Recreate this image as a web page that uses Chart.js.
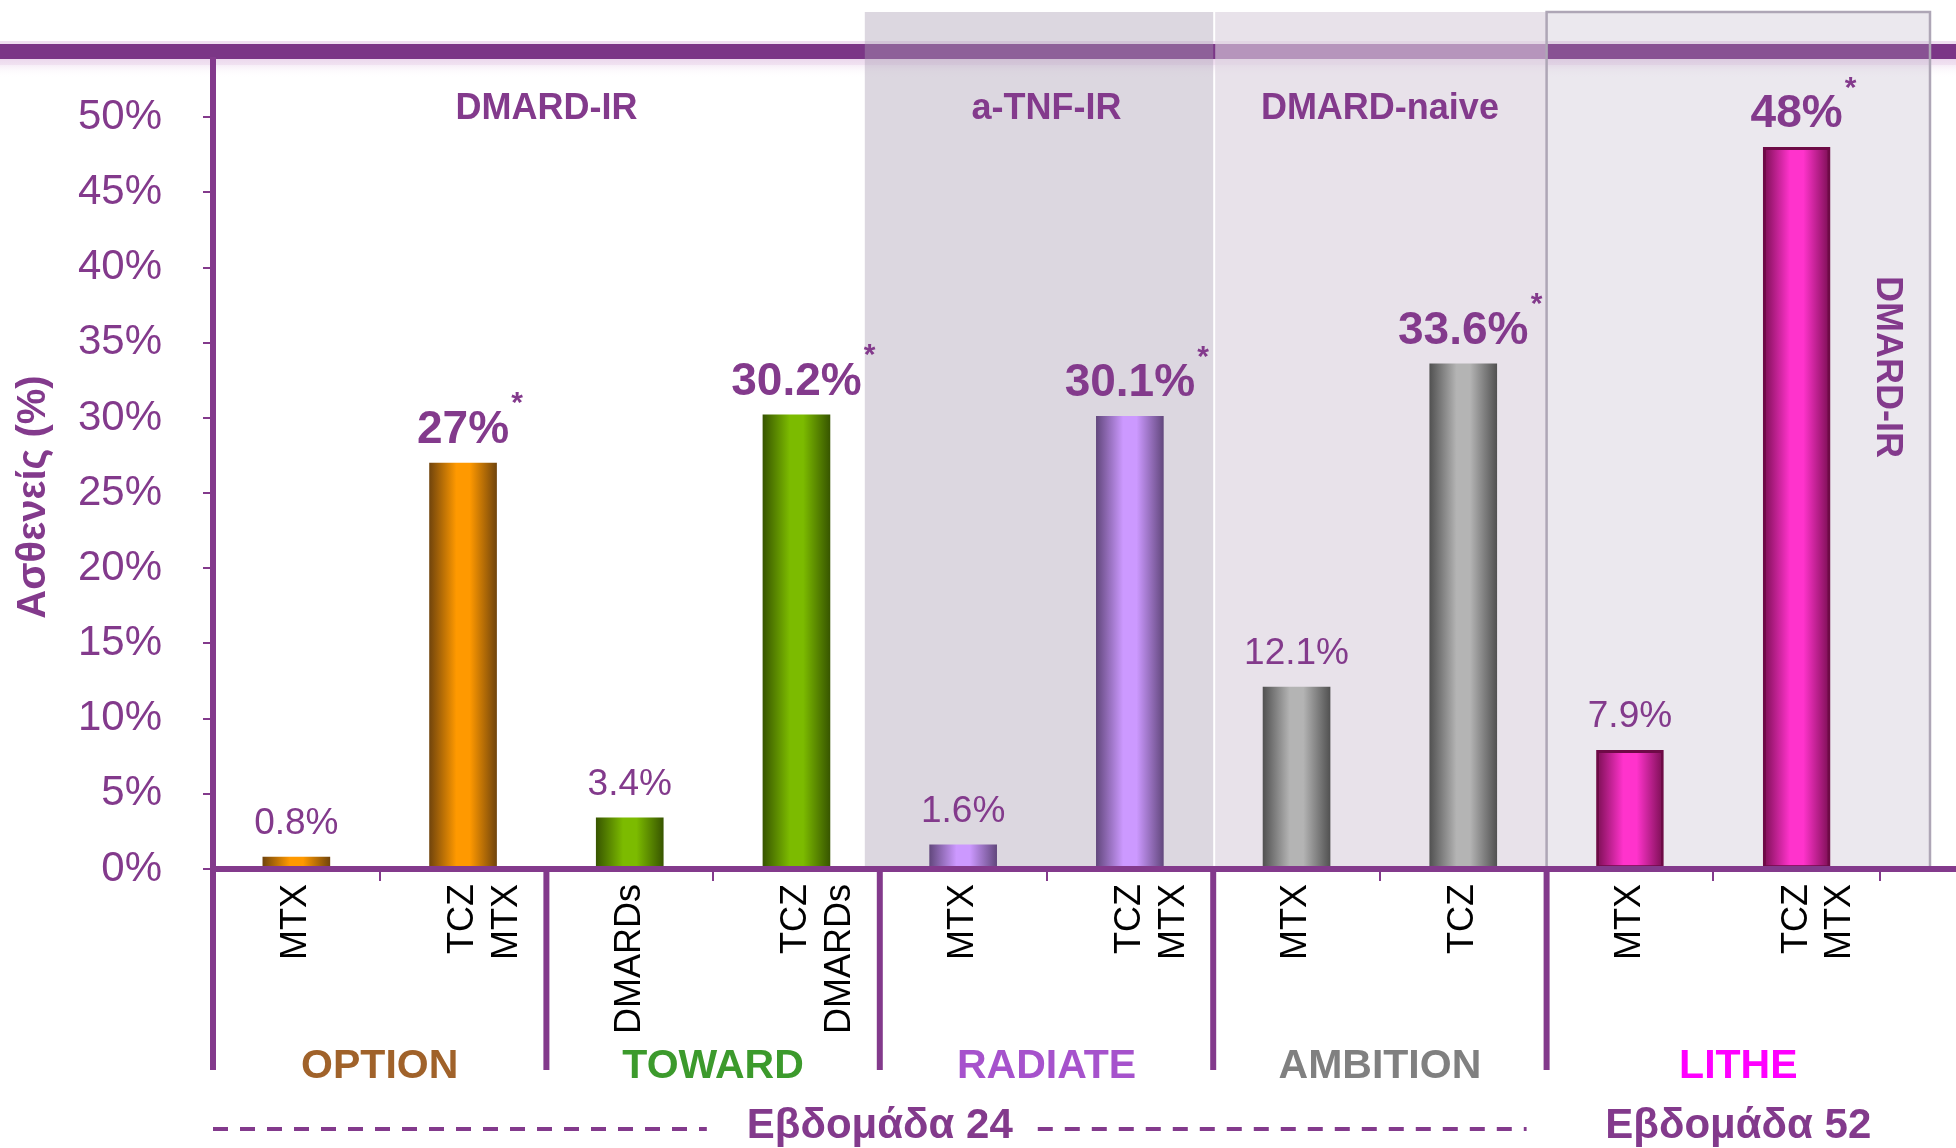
<!DOCTYPE html>
<html>
<head>
<meta charset="utf-8">
<script src="https://cdn.jsdelivr.net/npm/chart.js@4.4.1/dist/chart.umd.min.js"></script>
<style>
  html, body { margin: 0; padding: 0; background: #fff; }
  canvas { display: block; }
</style>
</head>
<body>
<canvas id="responders" width="1956" height="1148"></canvas>
<script>
// Treatment arm under each bar (two lines where the slide has two)
var treatments = [['MTX'], ['TCZ', 'MTX'], ['DMARDs'], ['TCZ', 'DMARDs'], ['MTX'], ['TCZ', 'MTX'], ['MTX'], ['TCZ'], ['MTX'], ['TCZ', 'MTX']];
// Patients (%) as printed over each bar
var responders = [0.8, 27, 3.4, 30.2, 1.6, 30.1, 12.1, 33.6, 7.9, 48];
var significant = [false, true, false, true, false, true, false, true, false, true];
// Study that each bar belongs to
var barStudy = [0, 0, 1, 1, 2, 2, 3, 3, 4, 4];
var studies = ['OPTION', 'TOWARD', 'RADIATE', 'AMBITION', 'LITHE'];
var populations = ['DMARD-IR', 'a-TNF-IR', 'DMARD-naive', 'DMARD-IR'];
var populationStudies = [[0, 1], [2, 2], [3, 3], [4, 4]];
var weeks = ['Εβδομάδα 24', 'Εβδομάδα 52'];
var weekStudies = [[0, 3], [4, 4]];
var yTicks = [0, 5, 10, 15, 20, 25, 30, 35, 40, 45, 50];
var yTitle = 'Ασθενείς (%)';

// Styles
var FONT = '"Liberation Sans", Arial, sans-serif';
var PURPLE = '#833a8c';
var studyColors = ['#a0622a', '#3c9a2c', '#a652cc', '#808080', '#ff00ff'];
var barDark = ['#72450c', '#385600', '#63487e', '#525252', '#7a0e52'];
var barLight = ['#ff9900', '#7cbb00', '#cc99ff', '#b4b4b4', '#ff33cc'];
var panelFills = [null, null, 'rgba(169,159,179,0.41)', 'rgba(218,208,221,0.62)', 'rgba(176,165,188,0.25)'];
var BAR_W = 67;

function firstBar(s) { return barStudy.indexOf(s); }
function lastBar(s) { return barStudy.lastIndexOf(s); }

// left / right pixel of a study's slot on the category axis
function studyLeft(chart, s) {
  return chart.scales.x.getPixelForValue(firstBar(s) - 0.5);
}
function studyRight(chart, s) {
  if (s === studies.length - 1) return chart.width - 26;
  return chart.scales.x.getPixelForValue(lastBar(s) + 0.5);
}

// Cylinder look: dark edges, light middle
function barFill(ctx) {
  var s = barStudy[ctx.dataIndex];
  if (ctx.type !== 'data') return '#999';
  var cx = ctx.chart.scales.x ? ctx.chart.scales.x.getPixelForValue(ctx.dataIndex) : NaN;
  if (!isFinite(cx)) return barLight[s];
  var g = ctx.chart.ctx.createLinearGradient(cx - BAR_W / 2, 0, cx + BAR_W / 2, 0);
  g.addColorStop(0, barDark[s]);
  g.addColorStop(0.4, barLight[s]);
  g.addColorStop(0.6, barLight[s]);
  g.addColorStop(1, barDark[s]);
  return g;
}

function line(c, x1, y1, x2, y2) {
  c.beginPath();
  c.moveTo(x1, y1);
  c.lineTo(x2, y2);
  c.stroke();
}

// Band across the top and the shaded study panels
var backdrop = {
  id: 'backdrop',
  beforeDraw: function (chart) {
    var c = chart.ctx, a = chart.chartArea;
    c.save();
    c.fillStyle = '#fff';
    c.fillRect(0, 0, chart.width, chart.height);
    c.fillStyle = '#efdff0';
    c.fillRect(0, 41, chart.width, 24);
    var glow = c.createLinearGradient(0, 59, 0, 78);
    glow.addColorStop(0, 'rgba(235,215,236,0.9)');
    glow.addColorStop(1, 'rgba(255,255,255,0)');
    c.fillStyle = glow;
    c.fillRect(0, 59, chart.width, 19);
    c.fillStyle = '#7b3686';
    c.fillRect(0, 44, chart.width, 15);

    for (var s = 0; s < studies.length; s++) {
      if (!panelFills[s]) continue;
      var l = studyLeft(chart, s), r = studyRight(chart, s);
      if (s === 2) l -= 15;
      if (s === 3) l += 2;
      c.fillStyle = panelFills[s];
      c.fillRect(l, a.top, r - l, a.bottom - a.top);
    }
    // frame round the last panel
    var ll = studyLeft(chart, 4), lr = studyRight(chart, 4);
    c.strokeStyle = '#aea6b6';
    c.lineWidth = 2.5;
    c.strokeRect(ll, a.top, lr - ll, a.bottom - a.top);
    c.restore();
  }
};

// Axis lines, separators, value labels and all the captions
var annotate = {
  id: 'annotate',
  afterDraw: function (chart) {
    var c = chart.ctx, a = chart.chartArea;
    var meta = chart.getDatasetMeta(0);
    c.save();

    // axes and study separators
    c.strokeStyle = PURPLE;
    c.lineWidth = 6;
    line(c, a.left - 3, a.bottom, chart.width, a.bottom);
    line(c, a.left, 57, a.left, 1070);
    for (var s = 1; s < studies.length; s++) {
      var bx = studyLeft(chart, s);
      line(c, bx, a.bottom, bx, 1070);
    }

    // value labels over the bars
    c.fillStyle = PURPLE;
    c.textAlign = 'center';
    c.textBaseline = 'middle';
    meta.data.forEach(function (bar, i) {
      var txt = responders[i] + '%';
      var ly = bar.y - 33;
      c.font = (significant[i] ? 'bold 46px ' : '37px ') + FONT;
      c.fillText(txt, bar.x, ly);
      if (significant[i]) {
        var w = c.measureText(txt).width;
        c.font = 'bold 30px ' + FONT;
        c.fillText('*', bar.x + w / 2 + 8, ly - 26);
      }
    });

    // patient population over the panels
    c.font = 'bold 36px ' + FONT;
    populations.forEach(function (p, i) {
      var g = populationStudies[i];
      var l = studyLeft(chart, g[0]), r = studyRight(chart, g[1]);
      if (i === populations.length - 1) {
        c.save();
        c.translate(r - 43, 367);
        c.rotate(Math.PI / 2);
        c.fillText(p, 0, 0);
        c.restore();
      } else {
        c.fillText(p, (l + r) / 2, 109);
      }
    });

    // study names
    c.font = 'bold 41px ' + FONT;
    studies.forEach(function (name, s) {
      c.fillStyle = studyColors[s];
      c.fillText(name, (studyLeft(chart, s) + studyRight(chart, s)) / 2, 1067);
    });

    // week row with dashed rules
    c.fillStyle = PURPLE;
    c.strokeStyle = PURPLE;
    c.font = 'bold 42px ' + FONT;
    weeks.forEach(function (wk, i) {
      var l = studyLeft(chart, weekStudies[i][0]), r = studyRight(chart, weekStudies[i][1]);
      var cx = (l + r) / 2;
      var tw = c.measureText(wk).width;
      c.fillText(wk, cx, 1126);
      if ((r - l - tw) / 2 > 120) {
        c.lineWidth = 4;
        c.setLineDash([15, 12]);
        line(c, l, 1129, cx - tw / 2 - 40, 1129);
        line(c, cx + tw / 2 + 25, 1129, r - 20, 1129);
        c.setLineDash([]);
      }
    });

    // y axis title
    c.font = 'bold 40px ' + FONT;
    c.translate(34, 497);
    c.rotate(-Math.PI / 2);
    c.fillText(yTitle, 0, 0);
    c.restore();
  }
};

var respondersChart = new Chart(document.getElementById('responders'), {
  type: 'bar',
  data: {
    labels: treatments,
    datasets: [{
      data: responders,
      backgroundColor: barFill,
      borderColor: function (ctx) { return barStudy[ctx.dataIndex] === 4 ? '#6e0a46' : 'rgba(0,0,0,0)'; },
      borderWidth: function (ctx) { return barStudy[ctx.dataIndex] === 4 ? 3 : 0; },
      borderSkipped: false,
      barThickness: BAR_W
    }]
  },
  options: {
    responsive: false,
    animation: false,
    layout: { padding: { top: 12, right: 76, left: 0, bottom: 0 } },
    plugins: {
      legend: { display: false },
      tooltip: { enabled: false }
    },
    scales: {
      x: {
        grid: { drawOnChartArea: false, tickLength: 12, color: PURPLE, lineWidth: 2 },
        border: { display: false },
        ticks: {
          color: '#000',
          font: { family: FONT, size: 36, lineHeight: 1.22 },
          minRotation: 90,
          maxRotation: 90,
          autoSkip: false,
          padding: 3
        },
        afterFit: function (scale) {
          scale.height = 279;
          scale.paddingLeft = 0;
          scale.paddingRight = 0;
        }
      },
      y: {
        min: 0,
        max: 57,
        afterBuildTicks: function (scale) {
          scale.ticks = yTicks.map(function (v) { return { value: v }; });
        },
        grid: { drawOnChartArea: false, tickLength: 10, color: PURPLE, lineWidth: 2 },
        border: { display: false },
        ticks: {
          color: PURPLE,
          font: { family: FONT, size: 42 },
          padding: 41,
          callback: function (v) { return v + '%'; }
        },
        afterFit: function (scale) {
          scale.width = 213;
          scale.paddingTop = 0;
          scale.paddingBottom = 0;
        }
      }
    }
  },
  plugins: [backdrop, annotate]
});
</script>
</body>
</html>
